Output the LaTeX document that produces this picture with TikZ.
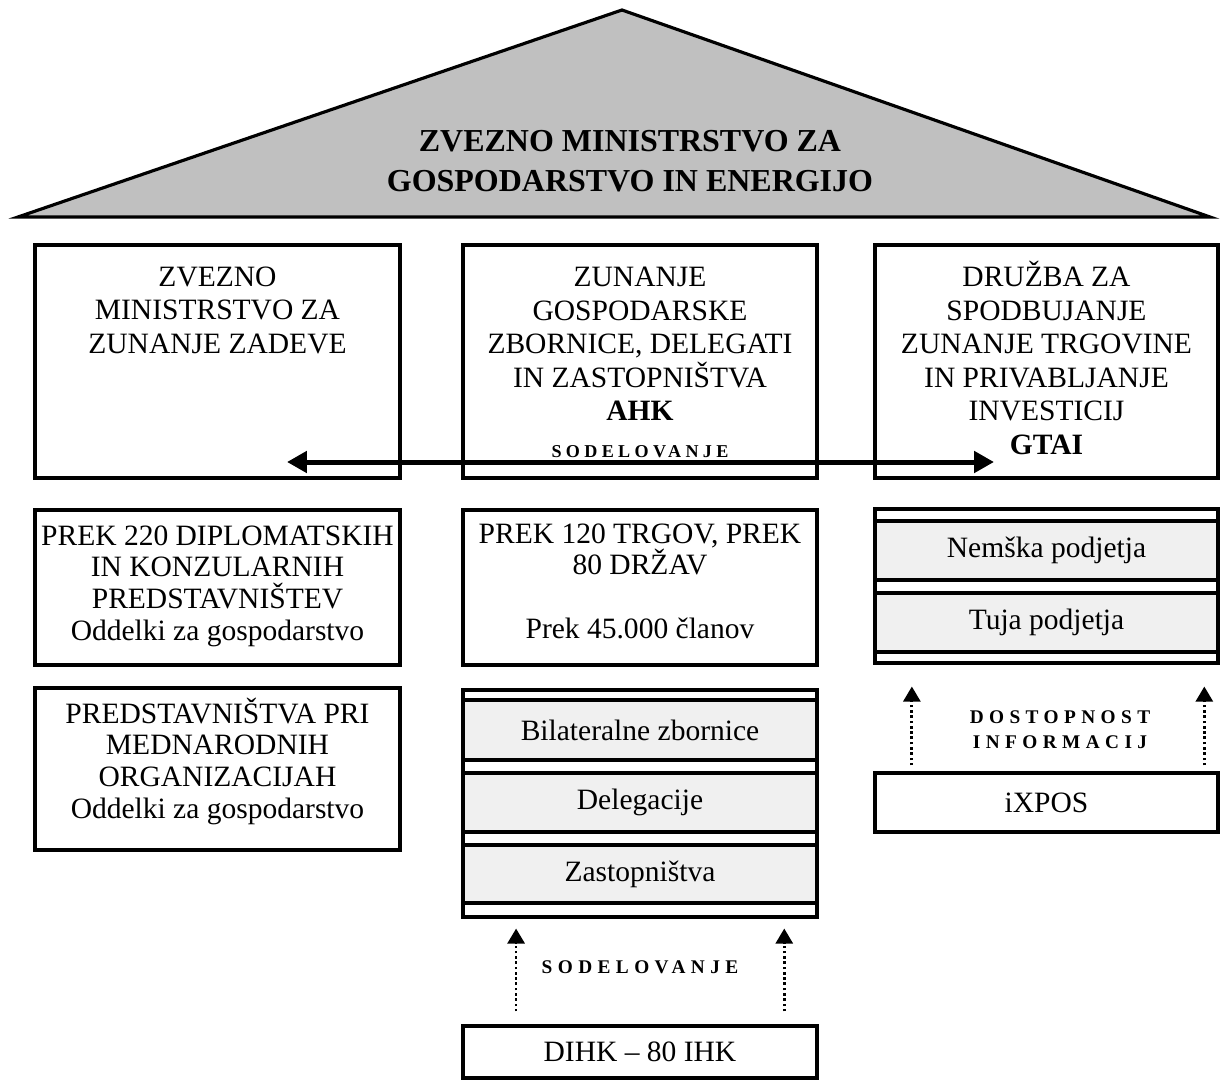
\documentclass[tikz,border=0pt]{standalone}
\usepackage{fontspec}
\setmainfont{Liberation Serif}
\newfontfamily\tagfont[LetterSpace=24]{Liberation Serif}
\newfontfamily\widetagfont[LetterSpace=28]{Liberation Serif}
\usetikzlibrary{arrows.meta,calc}
\definecolor{roofgray}{RGB}{192,192,192}
\definecolor{bandgray}{RGB}{240,240,240}

\begin{document}
\begin{tikzpicture}[x=0.02cm, y=-0.02cm,
    every node/.style={inner sep=0pt, font=\fontsize{16.8}{19.1}\selectfont},
    box/.style={draw, line width=1.8pt},
    band/.style={draw, line width=1.8pt, fill=bandgray},
    lcol/.style={minimum width=7.3cm},
    mcol/.style={minimum width=7.08cm},
    rcol/.style={minimum width=6.86cm},
    txt/.style={align=center, anchor=base},
    tight/.style={align=center, anchor=base, font=\fontsize{16.8}{18}\selectfont},
    tag/.style={align=center, anchor=base, font=\tagfont\bfseries\fontsize{10.3}{14.2}\selectfont},
    widetag/.style={align=center, anchor=base, font=\widetagfont\bfseries\fontsize{11}{14.2}\selectfont},
    flow/.style={-{Triangle[length=0.3cm, width=0.34cm]}, line width=1.6pt, dash pattern=on 1.5pt off 1.5pt}]
    \useasboundingbox (0,0) rectangle (1221,1081);
    \draw[line width=1.8pt, fill=roofgray] (18,217) -- (622,10) -- (1210,217) -- cycle;
    \node[align=center, anchor=base, font=\bfseries\fontsize{18.2}{22.8}\selectfont] (bmwe) at (630,192) {ZVEZNO MINISTRSTVO ZA\\GOSPODARSTVO IN ENERGIJO};

    \node[box, lcol, minimum height=4.66cm] (fm) at (217.5,361.5) {};
    \node[txt] (fmtxt) at (217.5,353.4) {ZVEZNO\\MINISTRSTVO ZA\\ZUNANJE ZADEVE};
    \node[box, mcol, minimum height=4.66cm] (ahk) at (640,361.5) {};
    \node[txt] (ahktxt) at (640,420.8) {ZUNANJE\\GOSPODARSKE\\ZBORNICE, DELEGATI\\IN ZASTOPNIŠTVA\\\textbf{AHK}};
    \node[box, rcol, minimum height=4.66cm] (gtai) at (1046.5,361.5) {};
    \node[txt] (gtaitxt) at (1046.5,454.5) {DRUŽBA ZA\\SPODBUJANJE\\ZUNANJE TRGOVINE\\IN PRIVABLJANJE\\INVESTICIJ\\\textbf{GTAI}};
    \node[tag] (coop1) at (640,457) {SODELOVANJE};
    \coordinate (cl) at (287,462);
    \coordinate (cr) at (994,462);
    \draw[{Triangle[length=0.4cm, width=0.42cm]}-{Triangle[length=0.4cm, width=0.42cm]}, line width=0.1cm] (cl) -- (cr);

    \node[box, lcol, minimum height=3.1cm] (dip) at (217.5,587.5) {};
    \node[tight] (diptxt) at (217.5,640) {PREK 220 DIPLOMATSKIH\\IN KONZULARNIH\\PREDSTAVNIŠTEV\\Oddelki za gospodarstvo};
    \node[box, mcol, minimum height=3.1cm] (trg) at (640,587.5) {};
    \node[tight] (trgtxt) at (640,638) {PREK 120 TRGOV, PREK\\80 DRŽAV\\[0.632cm]Prek 45.000 članov};
    \node[box, rcol, minimum height=3.08cm] (firms) at (1046.5,586) {};
    \node[band, rcol, minimum height=1.18cm] (ger) at (1046.5,550.5) {Nemška podjetja};
    \node[band, rcol, minimum height=1.18cm] (for) at (1046.5,622.5) {Tuja podjetja};

    \node[box, lcol, minimum height=3.24cm] (pred) at (217.5,769) {};
    \node[tight] (predtxt) at (217.5,818) {PREDSTAVNIŠTVA PRI\\MEDNARODNIH\\ORGANIZACIJAH\\Oddelki za gospodarstvo};
    \node[box, mcol, minimum height=4.54cm] (cham) at (640,803.5) {};
    \node[band, mcol, minimum height=1.2cm] (bil) at (640,730) {Bilateralne zbornice};
    \node[band, mcol, minimum height=1.18cm] (del) at (640,802.5) {Delegacije};
    \node[band, mcol, minimum height=1.16cm] (rep) at (640,874) {Zastopništva};
    \node[box, rcol, minimum height=1.18cm] (ixpos) at (1046.5,802.5) {iXPOS};
    \node[widetag] (info) at (1060,748) {DOSTOPNOST\\INFORMACIJ};
    \draw[flow, shorten <=0.12cm, shorten >=0.44cm] ($(ixpos.north west)!0.111!(ixpos.north east)$) -- ($(firms.south west)!0.111!(firms.south east)$);
    \draw[flow, shorten <=0.12cm, shorten >=0.44cm] ($(ixpos.north west)!0.956!(ixpos.north east)$) -- ($(firms.south west)!0.956!(firms.south east)$);

    \node[box, mcol, minimum height=1.04cm] (dihk) at (640,1052) {DIHK -- 80 IHK};
    \node[widetag] (coop2) at (640,973) {SODELOVANJE};
    \draw[flow, shorten <=0.26cm, shorten >=0.2cm] ($(dihk.north west)!0.153!(dihk.north east)$) -- ($(cham.south west)!0.153!(cham.south east)$);
    \draw[flow, shorten <=0.26cm, shorten >=0.2cm] ($(dihk.north west)!0.904!(dihk.north east)$) -- ($(cham.south west)!0.904!(cham.south east)$);
\end{tikzpicture}
\end{document}
